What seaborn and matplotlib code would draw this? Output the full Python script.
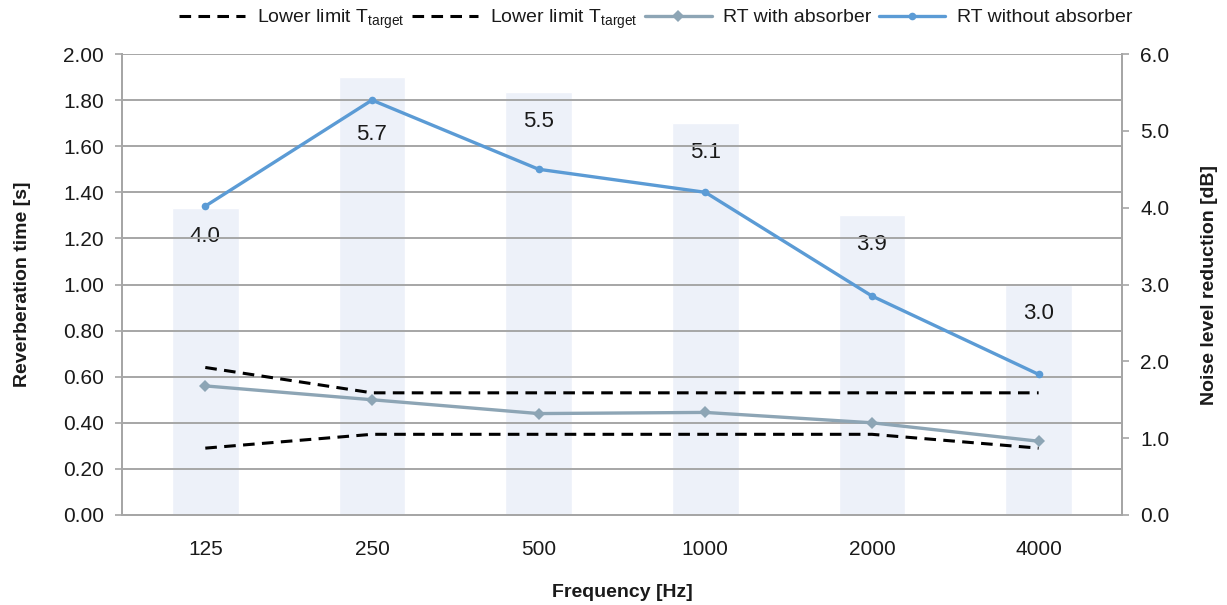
import matplotlib
matplotlib.use("Agg")
import matplotlib.pyplot as plt
import seaborn as sns
import numpy as np
import pandas as pd

# Octave-band centre frequencies
frequencies = ["125", "250", "500", "1000", "2000", "4000"]

# Noise level reduction per band [dB] (right axis, bars)
noise_reduction = [4.0, 5.7, 5.5, 5.1, 3.9, 3.0]

# Reverberation times [s] (left axis, lines)
rt_without = [1.34, 1.80, 1.50, 1.40, 0.95, 0.61]
rt_with = [0.56, 0.50, 0.44, 0.445, 0.40, 0.32]

# Tolerance band around the target reverberation time [s]
limit_upper = [0.64, 0.53, 0.53, 0.53, 0.53, 0.53]
limit_lower = [0.29, 0.35, 0.35, 0.35, 0.35, 0.29]

legend_limit = "Lower limit T$_{\\mathregular{target}}$"

sns.set_theme(style="white")
plt.rcParams["font.family"] = ["Liberation Sans", "DejaVu Sans"]
plt.rcParams["mathtext.fontset"] = "custom"
plt.rcParams["mathtext.rm"] = "Liberation Sans"

GRAY = "#a6a6a6"
TXT = "#1a1a1a"
FS = 15

fig = plt.figure(figsize=(12.27, 6.05), dpi=100)
ax_bar = fig.add_axes([0.0994, 0.1488, 0.8150, 0.7619])
ax_line = ax_bar.twinx()

bars_df = pd.DataFrame({"freq": frequencies, "reduction": noise_reduction})
sns.barplot(data=bars_df, x="freq", y="reduction", order=frequencies,
            color="#edf1f9", saturation=1, width=0.4, ax=ax_bar, zorder=1)

x = np.arange(len(frequencies))
lines_df = pd.DataFrame({"x": x, "upper": limit_upper, "lower": limit_lower,
                         "with": rt_with, "without": rt_without})

dash = (0, (3.8, 2.4))
sns.lineplot(data=lines_df, x="x", y="upper", ax=ax_line, color="black",
             linewidth=2.2, linestyle=dash, label=legend_limit, zorder=3)
sns.lineplot(data=lines_df, x="x", y="lower", ax=ax_line, color="black",
             linewidth=2.2, linestyle=dash, label=legend_limit, zorder=3)
sns.lineplot(data=lines_df, x="x", y="with", ax=ax_line, color="#8da5b5",
             linewidth=2.4, marker="D", markersize=6, markeredgewidth=0,
             label="RT with absorber", zorder=4)
sns.lineplot(data=lines_df, x="x", y="without", ax=ax_line, color="#5b9bd5",
             linewidth=2.4, marker="o", markersize=5.5, markeredgewidth=0,
             label="RT without absorber", zorder=5)

# Value labels inside the top of each bar
for i, v in enumerate(noise_reduction):
    dy = -41 if i == 1 else -21
    ax_bar.annotate(f"{v:.1f}", xy=(i, v), xytext=(0, dy), textcoords="offset points",
                    ha="center", va="center", fontsize=FS + 1, color=TXT, zorder=6)

# Axes ranges and ticks
ax_bar.set_xlim(-0.5, len(frequencies) - 0.5)
ax_bar.set_ylim(0, 6)
ax_line.set_ylim(0, 2)
ax_bar.set_yticks(np.arange(0, 6.01, 1.0))
ax_bar.set_yticklabels([f"{t:.1f}" for t in np.arange(0, 6.01, 1.0)])
ax_line.set_yticks(np.arange(0, 2.01, 0.2))
ax_line.set_yticklabels([f"{t:.2f}" for t in np.arange(0, 2.01, 0.2)])

# Put the reverberation scale on the left and the dB scale on the right
ax_line.yaxis.tick_left()
ax_line.yaxis.set_label_position("left")
ax_bar.yaxis.tick_right()
ax_bar.yaxis.set_label_position("right")

ax_line.grid(axis="y", color=GRAY, linewidth=1.4, zorder=2)
ax_line.set_axisbelow(False)
ax_bar.grid(False)

for ax in (ax_bar, ax_line):
    ax.spines["top"].set_visible(False)
    for side in ("left", "right", "bottom"):
        ax.spines[side].set_color(GRAY)
        ax.spines[side].set_linewidth(1.4)
    ax.tick_params(colors=GRAY, labelcolor=TXT, labelsize=FS, length=5, width=1.2)

ax_bar.tick_params(axis="x", direction="inout", length=8, pad=14)
ax_line.tick_params(axis="y", pad=8)
ax_bar.tick_params(axis="y", pad=8)

ax_bar.set_xlabel("Frequency [Hz]", fontsize=FS - 1, fontweight="bold", color=TXT, labelpad=18)
ax_line.set_xlabel("")
ax_line.set_ylabel("Reverberation time [s]", fontsize=FS - 1, fontweight="bold", color=TXT, labelpad=23)
ax_bar.set_ylabel("Noise level reduction [dB]", fontsize=FS - 1, fontweight="bold", color=TXT, labelpad=23)

handles, labels = ax_line.get_legend_handles_labels()
ax_line.legend(handles, labels, loc="center", bbox_to_anchor=(0.534, 1.076), ncol=4,
               frameon=False, fontsize=FS - 1, handlelength=3.4, columnspacing=0.4,
               handletextpad=0.6, borderaxespad=0.0, labelcolor=TXT)

fig.savefig("out.png", dpi=100)
